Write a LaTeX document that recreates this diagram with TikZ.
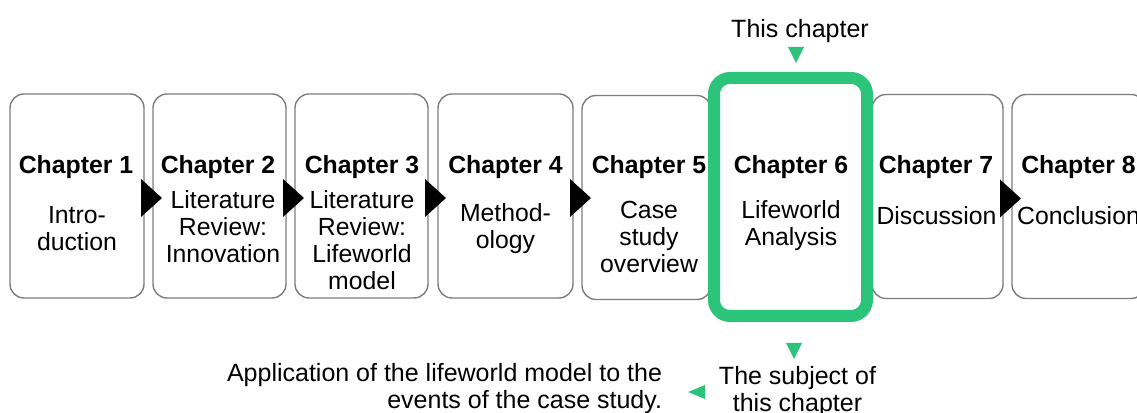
\documentclass[tikz,border=0pt]{standalone}
\usepackage{fontspec}
\setmainfont{Liberation Sans}
\usetikzlibrary{calc}
\definecolor{framegray}{RGB}{125,125,125}
\definecolor{accent}{RGB}{43,196,122}
% zero-width strut that fixes the height of a text block's first line
\newcommand\firstline{\rule{0pt}{20pt}}

\begin{document}
\begin{tikzpicture}[x=1pt,y=1pt,
  every node/.style={inner sep=0pt, outer sep=0pt},
  chapbox/.style={draw=framegray, line width=1.4pt, rounded corners=14pt,
    fill=white, minimum height=204pt},
  current/.style={draw=accent, line width=12pt, rounded corners=16pt,
    fill=white, minimum width=153pt, minimum height=238pt},
  heading/.style={anchor=base, font=\fontsize{24.8}{27}\selectfont\bfseries},
  body/.style={anchor=north, align=center, font=\fontsize{24.8}{26.8}\selectfont},
  note/.style={font=\fontsize{25}{27}\selectfont},
  flow/.style={fill=black},
  pointer/.style={fill=accent}]

\useasboundingbox (0,0) rectangle (1137,412);
\clip (0,0) rectangle (1137,412);

% chapter frames
\node[chapbox, minimum width=134pt] (b1) at (77,216) {};
\node[chapbox, minimum width=133pt] (b2) at (219.5,216) {};
\node[chapbox, minimum width=133pt] (b3) at (361.5,216) {};
\node[chapbox, minimum width=135pt] (b4) at (505.5,216) {};
\node[chapbox, minimum width=129pt] (b5) at (646.5,214.5) {};
\node[chapbox, minimum width=131pt] (b7) at (937.5,215.5) {};
\node[chapbox, minimum width=133pt] (b8) at (1078.5,215.5) {};
% highlighted chapter
\node[current] (b6) at (790.5,215) {};

% flow arrows between consecutive chapters
\foreach \b in {b1,b2,b3,b4,b7}
  \fill[flow] ([shift={(-3,17)}]\b.east) -- ++(21,-19) -- ++(-21,-19) -- cycle;

% chapter headings
\node[heading] (h1) at (76,238) {Chapter 1};
\node[heading] (h2) at (218,238) {Chapter 2};
\node[heading] (h3) at (362,238) {Chapter 3};
\node[heading] (h4) at (505.5,238) {Chapter 4};
\node[heading] (h5) at (649,238) {Chapter 5};
\node[heading] (h6) at (791,238) {Chapter 6};
\node[heading] (h7) at (936,238) {Chapter 7};
\node[heading] (h8) at (1078.5,238) {Chapter 8};

% chapter titles
\node[body] (t1) at (77,208) {\firstline Intro-\\duction};
\node[body] (t2) at (223,223) {\firstline Literature\\Review:\\Innovation};
\node[body] (t3) at (362,223) {\firstline Literature\\Review:\\Lifeworld\\model};
\node[body] (t4) at (505.5,210) {\firstline Method-\\ology};
\node[body] (t5) at (649,213) {\firstline Case\\study\\overview};
\node[body] (t6) at (791,213) {\firstline Lifeworld\\Analysis};
\node[body] (t7) at (936.5,207) {\firstline Discussion};
\node[body] (t8) at (1078.5,207) {\firstline Conclusion};

% annotations around the highlighted chapter
\node[note, anchor=base] (ctop) at (800,374) {This chapter};
\fill[pointer] (788,365) -- (804,365) -- (796,349) -- cycle;

\fill[pointer] (786,69) -- (802,69) -- (794,53) -- cycle;
\node[note, anchor=north, align=center] (subj) at (797.5,48)
  {\firstline The subject of\\this chapter};

\fill[pointer] (705,27) -- (705,13) -- (688,20) -- cycle;
\node[note, anchor=north east, align=right] (app) at (662,50)
  {\firstline Application of the lifeworld model to the\\events of the case study.};
\end{tikzpicture}
\end{document}
